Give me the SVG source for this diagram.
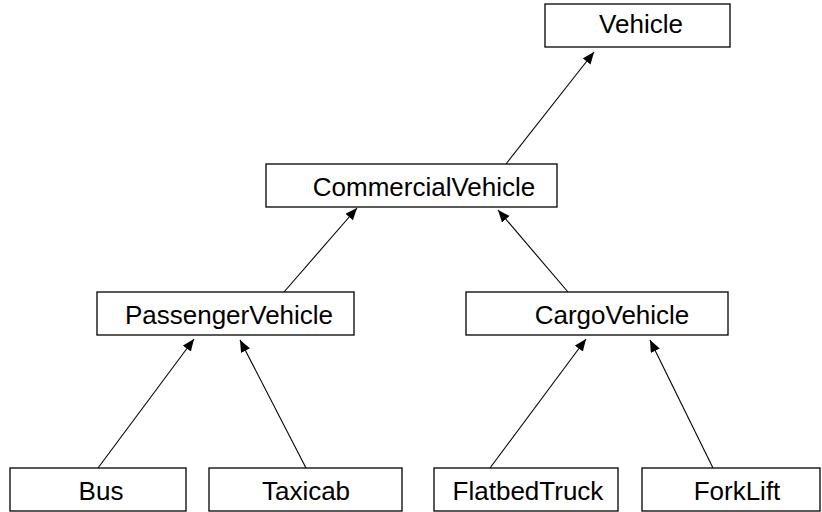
<svg xmlns="http://www.w3.org/2000/svg" width="822" height="512" viewBox="0 0 822 512">
<style>
.box{fill:#fff;stroke:#000;stroke-width:1.3}
.lbl{font-family:"Liberation Sans",Arial,sans-serif;font-size:26px;fill:#000;text-anchor:middle}
.con{stroke:#000;stroke-width:1.1;fill:none;marker-end:url(#ah)}
</style>
<defs>
<marker id="ah" markerUnits="userSpaceOnUse" markerWidth="14" markerHeight="12" refX="12" refY="5" orient="auto">
<path d="M0,0 L12,5 L0,10 z" fill="#000"/>
</marker>
</defs>
<rect width="822" height="512" fill="#fff"/>
<g id="connectors">
<line class="con" x1="506" y1="164" x2="594" y2="52"/>
<line class="con" x1="284" y1="292" x2="357" y2="208"/>
<line class="con" x1="568" y1="292" x2="498" y2="210"/>
<line class="con" x1="98" y1="468" x2="194" y2="339"/>
<line class="con" x1="306" y1="468" x2="240" y2="340"/>
<line class="con" x1="490" y1="468" x2="586" y2="339"/>
<line class="con" x1="713" y1="468" x2="650" y2="340"/>
</g>
<g id="Vehicle"><rect class="box" x="545" y="4" width="185" height="43"/><text class="lbl" x="641" y="33">Vehicle</text></g>
<g id="CommercialVehicle"><rect class="box" x="266" y="164" width="291" height="43"/><text class="lbl" x="424" y="196">CommercialVehicle</text></g>
<g id="PassengerVehicle"><rect class="box" x="97" y="292" width="257" height="43"/><text class="lbl" x="229" y="324">PassengerVehicle</text></g>
<g id="CargoVehicle"><rect class="box" x="466" y="292" width="262" height="43"/><text class="lbl" x="612" y="324">CargoVehicle</text></g>
<g id="Bus"><rect class="box" x="10" y="468" width="176" height="43"/><text class="lbl" x="101" y="500">Bus</text></g>
<g id="Taxicab"><rect class="box" x="209" y="468" width="193" height="43"/><text class="lbl" x="306" y="500">Taxicab</text></g>
<g id="FlatbedTruck"><rect class="box" x="434" y="468" width="184" height="43"/><text class="lbl" x="528" y="500">FlatbedTruck</text></g>
<g id="ForkLift"><rect class="box" x="642" y="468" width="178" height="43"/><text class="lbl" x="737" y="500">ForkLift</text></g>
</svg>
